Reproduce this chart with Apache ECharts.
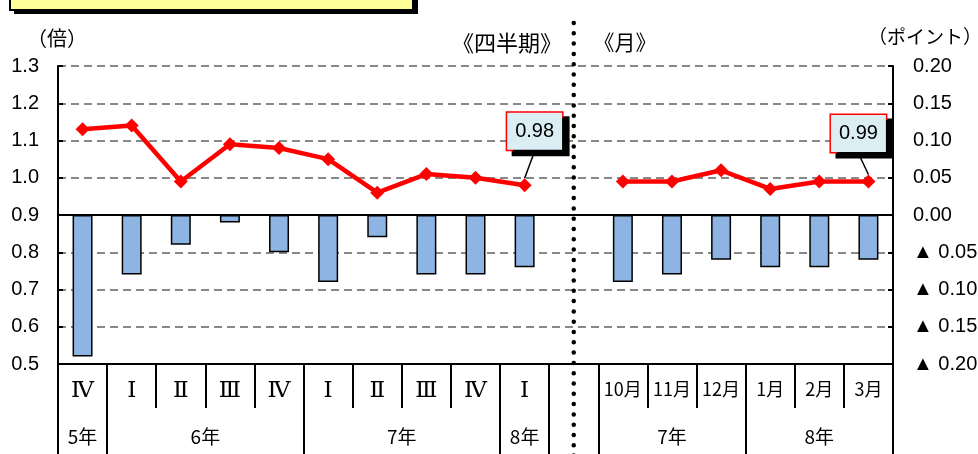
<!DOCTYPE html>
<html>
<head>
<meta charset="utf-8">
<script src="https://cdn.jsdelivr.net/npm/echarts@6/dist/echarts.min.js"></script>
<style>
html,body{margin:0;padding:0;background:#fff;}
#c{width:978px;height:454px;}
</style>
</head>
<body>
<div id="c"></div>
<script>
// ---- data ----
const quarterLabels = ['Ⅳ','Ⅰ','Ⅱ','Ⅲ','Ⅳ','Ⅰ','Ⅱ','Ⅲ','Ⅳ','Ⅰ'];
const monthLabels = ['10月','11月','12月','1月','2月','3月'];
const categories = quarterLabels.concat([''], monthLabels);
const ratioQuarter = [1.13, 1.14, 0.99, 1.09, 1.08, 1.05, 0.96, 1.01, 1.00, 0.98];
const ratioMonth = [0.99, 0.99, 1.02, 0.97, 0.99, 0.99];
const diffQuarter = [-0.19, -0.08, -0.04, -0.01, -0.05, -0.09, -0.03, -0.08, -0.08, -0.07];
const diffMonth = [-0.09, -0.08, -0.06, -0.07, -0.07, -0.06];
const yearLabels = ['5年', '6年', '7年', '8年', '', '7年', '8年'];
const yearSpans = [1, 4, 4, 1, 1, 3, 3];
const leftTickLabels = ['0.5','0.6','0.7','0.8','0.9','1.0','1.1','1.2','1.3'];
const calloutIndex = [9, 16];

// ---- build ----
const ratioAll = ratioQuarter.concat([null], ratioMonth);
const diffAll = diffQuarter.concat([null], diffMonth);
const lineData = ratioAll.map(function (v, i) {
  if (calloutIndex.indexOf(i) >= 0) {
    return { value: v, label: { show: true }, labelLine: { show: true } };
  }
  return v;
});
const boundaries = [0];
const centers = [];
yearSpans.forEach(function (s) {
  const start = boundaries[boundaries.length - 1];
  centers.push(start + s / 2);
  boundaries.push(start + s);
});
const centerLabel = {};
centers.forEach(function (c, i) { centerLabel[c] = yearLabels[i]; });

const SANS = '"Liberation Sans", Arial, "DejaVu Sans", sans-serif';
const JP = '"Noto Sans CJK JP", sans-serif';

const chart = echarts.init(document.getElementById('c'));
const option = {
  animation: false,
  backgroundColor: '#fff',
  grid: { left: 58, right: 85, top: 66, bottom: 90, containLabel: false, outerBoundsMode: 'none' },
  xAxis: [
    {
      type: 'category',
      data: categories,
      position: 'bottom',
      boundaryGap: true,
      axisLine: { show: true, onZero: false, lineStyle: { color: '#000', width: 2 } },
      axisTick: { show: true, interval: 0, length: 44, lineStyle: { color: '#000', width: 2 } },
      axisLabel: {
        interval: 0, margin: 16, color: '#000',
        formatter: function (v) {
          if (!v) return '';
          return /^[ⅠⅡⅢⅣ]$/.test(v) ? '{r|' + v + '}' : '{m|' + v + '}';
        },
        rich: {
          r: { fontFamily: '"DejaVu Serif", serif', fontSize: 23, color: '#000' },
          m: { fontFamily: JP, fontSize: 18, color: '#000' }
        }
      },
      splitLine: { show: false }
    },
    {
      type: 'value',
      min: 0, max: boundaries[boundaries.length - 1],
      position: 'bottom',
      axisLine: { show: false, onZero: false },
      splitLine: { show: false },
      axisTick: { show: true, customValues: boundaries, length: 92, lineStyle: { color: '#000', width: 2 } },
      axisLabel: {
        show: true, customValues: centers, margin: 63,
        fontFamily: JP, fontSize: 19, color: '#000',
        formatter: function (v) { return centerLabel[v] || ''; }
      }
    }
  ],
  yAxis: [
    {
      type: 'value', min: 0.5, max: 1.3, interval: 0.1, position: 'left',
      axisLine: { show: true, onZero: false, lineStyle: { color: '#000', width: 2 } },
      axisTick: { show: true, inside: true, length: 5, lineStyle: { color: '#000', width: 2 } },
      axisLabel: {
        margin: 19, color: '#000', fontFamily: SANS, fontSize: 20,
        formatter: function (v) {
          const idx = Math.round((v - 0.5) / 0.1);
          return leftTickLabels[idx];
        }
      },
      splitLine: { show: true, lineStyle: { color: '#888', width: 2, type: [8, 5] } }
    },
    {
      type: 'value', min: -0.2, max: 0.2, interval: 0.05, position: 'right',
      axisLine: { show: true, onZero: false, lineStyle: { color: '#000', width: 2 } },
      axisTick: { show: true, inside: true, length: 5, lineStyle: { color: '#000', width: 2 } },
      axisLabel: {
        margin: 20, color: '#000', fontFamily: SANS, fontSize: 20, align: 'left',
        formatter: function (v) {
          const a = Math.abs(v).toFixed(2);
          return v < -1e-9 ? '▲ ' + a : a;
        }
      },
      splitLine: { show: false }
    }
  ],
  series: [
    {
      type: 'bar', name: '差', xAxisIndex: 0, yAxisIndex: 1,
      data: diffAll, barWidth: 20,
      itemStyle: { color: '#8DB4E2', borderColor: '#000', borderWidth: 1.5 },
      markLine: {
        silent: true, symbol: 'none', label: { show: false },
        lineStyle: { color: '#000', width: 2, type: 'solid' },
        data: [{ yAxis: 0 }]
      },
      z: 2
    },
    {
      type: 'line', name: '倍率', xAxisIndex: 0, yAxisIndex: 0,
      data: lineData, connectNulls: false,
      symbol: 'diamond', symbolSize: 14,
      lineStyle: { color: '#FF0000', width: 4.5 },
      itemStyle: { color: '#FF0000' },
      label: {
        show: false, position: 'inside',
        formatter: function (p) { return p.value.toFixed(2); },
        fontFamily: SANS, fontSize: 20, color: '#000',
        backgroundColor: '#DAEEF3', borderColor: '#FF0000', borderWidth: 1.5,
        padding: [9, 8, 8, 8], lineHeight: 20,
        shadowColor: '#000', shadowOffsetX: 6, shadowOffsetY: 5, shadowBlur: 0
      },
      labelLine: { show: false, lineStyle: { color: '#000', width: 1.5 } },
      labelLayout: function (p) {
        return p.dataIndex === 9 ? { dx: 10, dy: -54 } : { dx: -10, dy: -48 };
      },
      z: 5
    }
  ],
  graphic: [
    { type: 'rect', id: 'boxShadow', shape: { x: 14, y: -20, width: 404, height: 34 }, style: { fill: '#000' }, z: 10 },
    { type: 'rect', id: 'box', shape: { x: 10, y: -20, width: 403, height: 30 }, style: { fill: '#FFFF99', stroke: '#000', lineWidth: 2 }, z: 11 },
    { type: 'text', id: 't1', x: 57, y: 38, style: { text: '（倍）', fontFamily: JP, fontSize: 20, fill: '#000', align: 'center', verticalAlign: 'middle' } },
    { type: 'text', id: 't2', x: 507, y: 43, style: { text: '《四半期》', fontFamily: JP, fontSize: 22, fill: '#000', align: 'center', verticalAlign: 'middle' } },
    { type: 'text', id: 't3', x: 625, y: 42, style: { text: '《月》', fontFamily: JP, fontSize: 21, fill: '#000', align: 'center', verticalAlign: 'middle' } },
    { type: 'text', id: 't4', x: 982, y: 37, style: { text: '（ポイント）', fontFamily: JP, fontSize: 19, fill: '#000', align: 'right', verticalAlign: 'middle' } }
  ]
};
chart.setOption(option);

// dotted separator in the gap category, placed by the category scale
const gapX = chart.convertToPixel({ xAxisIndex: 0 }, quarterLabels.length);
chart.setOption({
  graphic: [
    { type: 'line', id: 'sep', shape: { x1: gapX, y1: 23, x2: gapX, y2: 460 },
      style: { stroke: '#000', lineWidth: 4.5, lineDash: [0, 10.3], lineCap: 'round' }, z: 20 }
  ]
});
</script>
</body>
</html>
